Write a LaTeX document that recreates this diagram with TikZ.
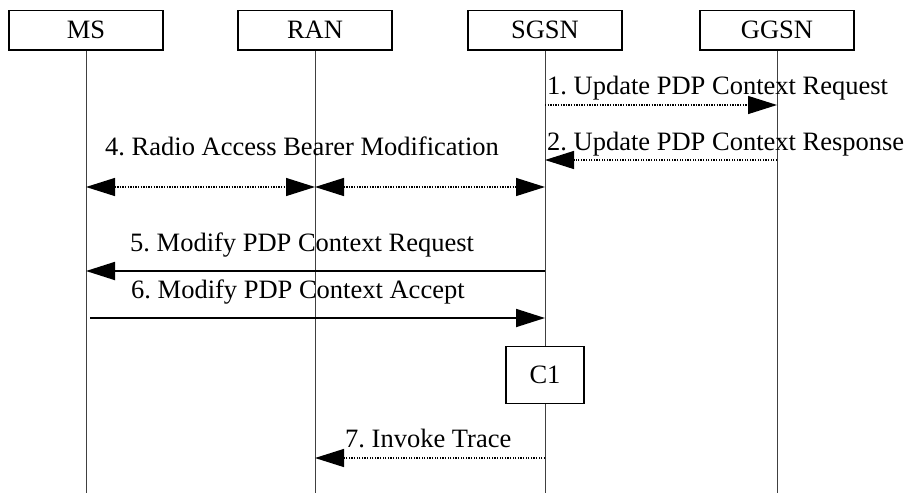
\documentclass[tikz,border=0pt]{standalone}
\usepackage{fontspec}
\setmainfont{Liberation Serif}
\usetikzlibrary{arrows.meta}
\frenchspacing
\begin{document}
\begin{tikzpicture}[x=1pt,y=-1pt,
  entity/.style={draw, line width=1.6pt, minimum width=154pt, minimum height=39.5pt, inner sep=0pt, font=\fontsize{26.5}{30}\selectfont},
  lifeline/.style={line width=1pt, draw=black!75},
  lbl/.style={inner sep=0pt, font=\fontsize{26.5}{30}\selectfont},
  solidmsg/.style={line width=1.8pt, -{Triangle[length=29pt,width=18pt]}},
  dotmsg/.style={line width=1.3pt, dash pattern=on 1.3pt off 1.3pt, -{Triangle[length=29pt,width=18pt]}},
  dotdbl/.style={line width=1.3pt, dash pattern=on 1.3pt off 1.3pt, {Triangle[length=29pt,width=18pt]}-{Triangle[length=29pt,width=18pt]}},
  procbox/.style={draw, line width=1.6pt, minimum width=78pt, minimum height=57pt, inner sep=0pt, fill=white, font=\fontsize{26.5}{30}\selectfont}
]
\useasboundingbox (0,0) rectangle (908,493);

% entities
\node[entity] (ms)   at (86,30.25)  {MS};
\node[entity] (ran)  at (315,30.25) {RAN};
\node[entity] (sgsn) at (545,30.25) {SGSN};
\node[entity] (ggsn) at (777,30.25) {GGSN};

% lifeline ends
\coordinate (msE)   at (86,493);
\coordinate (ranE)  at (315,493);
\coordinate (sgsnE) at (545,493);
\coordinate (ggsnE) at (777,493);
\draw[lifeline] (ms.south) -- (msE);
\draw[lifeline] (ran.south) -- (ranE);
\draw[lifeline] (sgsn.south) -- (sgsnE);
\draw[lifeline] (ggsn.south) -- (ggsnE);

% message end points
\coordinate (s1) at (545,105);  \coordinate (g1) at (777,105);
\coordinate (g2) at (777,160);  \coordinate (s2) at (545,160);
\coordinate (m4) at (86,187);   \coordinate (r4) at (315,187); \coordinate (s4) at (545,187);
\coordinate (s5) at (545,271);  \coordinate (m5) at (86,271);
\coordinate (m6) at (90,318);   \coordinate (s6) at (545,318);
\coordinate (s7) at (545,458);  \coordinate (r7) at (315,458);

% messages
\draw[dotmsg] (s1) -- (g1);
\node[lbl, anchor=base west] (t1) at (547,94) {1. Update PDP Context Request};

\draw[dotmsg] (g2) -- (s2);
\node[lbl, anchor=base west] (t2) at (547,150) {2. Update PDP Context Response};

\draw[dotdbl] (m4) -- (r4);
\draw[dotdbl] (r4) -- (s4);
\node[lbl, anchor=base west] (t4) at (105,155) {4. Radio Access Bearer Modification};

\draw[solidmsg] (s5) -- (m5);
\node[lbl, anchor=base west] (t5) at (130,251) {5. Modify PDP Context Request};

\draw[solidmsg] (m6) -- (s6);
\node[lbl, anchor=base west] (t6) at (131,298) {6. Modify PDP Context Accept};

\node[procbox] (c1) at (545,375) {C1};

\draw[dotmsg] (s7) -- (r7);
\node[lbl, anchor=base west] (t7) at (345,447) {7. Invoke Trace};
\end{tikzpicture}
\end{document}
